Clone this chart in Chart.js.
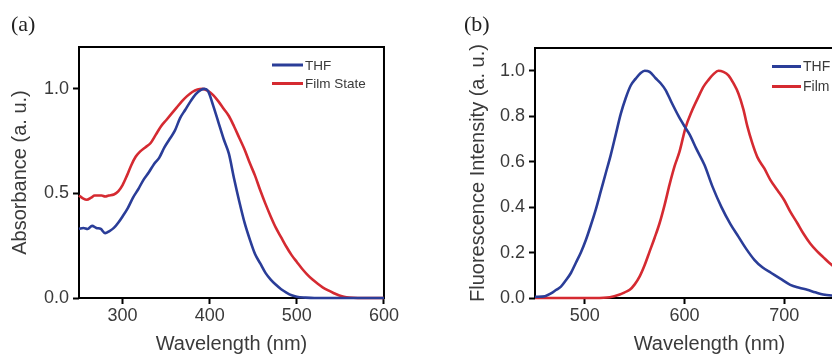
<!DOCTYPE html>
<html><head><meta charset="utf-8">
<script src="https://cdn.jsdelivr.net/npm/chart.js@4"></script>
<style>
html,body{margin:0;padding:0;width:832px;height:356px;overflow:hidden;background:#fff;}
#wrap{position:relative;width:832px;height:356px;overflow:hidden;}
canvas{position:absolute;top:0;}
.lbl{position:absolute;font-family:"Liberation Serif","Times New Roman",serif;font-size:22px;color:#222;line-height:24px;}
</style></head><body>
<div id="wrap">
<canvas id="ca" width="400" height="356" style="left:0;width:400px;height:356px"></canvas>
<canvas id="cb" width="470" height="356" style="left:430px;width:470px;height:356px"></canvas>
<div class="lbl" style="left:11px;top:12px">(a)</div>
<div class="lbl" style="left:464px;top:12px">(b)</div>
</div>
<script>
// ---------- Panel (a): absorbance ----------
const absWavelengthTHF = [250,255,260,265,270,275,280,285,290,295,300,306,312,318,324,330,336,342,348,354,360,366,372,378,384,390,394,398,404,410,416,422,428,434,440,446,452,458,464,470,476,482,488,494,500,510,520,540,560,580,600];
const absTHF = [0.33,0.335,0.33,0.345,0.335,0.33,0.31,0.32,0.335,0.36,0.39,0.43,0.48,0.52,0.565,0.60,0.64,0.67,0.72,0.76,0.80,0.86,0.90,0.94,0.975,0.995,1.0,0.99,0.92,0.84,0.76,0.69,0.57,0.46,0.36,0.28,0.21,0.165,0.12,0.088,0.063,0.042,0.026,0.013,0.006,0.002,0,0,0,0,0];
const absWavelengthFilm = [250,255,259,264,268,272,276,280,284,290,295,300,305,310,315,320,326,332,338,344,350,356,362,368,374,380,386,392,398,404,410,416,422,428,434,440,446,452,458,464,470,476,482,488,494,500,506,512,518,524,530,536,542,548,554,560,570,580,600];
const absFilm = [0.49,0.475,0.47,0.48,0.49,0.49,0.49,0.485,0.49,0.495,0.51,0.54,0.585,0.635,0.675,0.70,0.72,0.74,0.78,0.82,0.85,0.88,0.91,0.94,0.965,0.985,0.997,1.0,0.99,0.97,0.94,0.905,0.87,0.82,0.765,0.71,0.645,0.585,0.515,0.45,0.39,0.335,0.29,0.245,0.205,0.172,0.14,0.112,0.088,0.068,0.05,0.036,0.024,0.013,0.006,0.002,0,0,0];
const absXTicks = [300,400,500,600];
const absYTicks = [0.0,0.5,1.0];

// ---------- Panel (b): fluorescence ----------
const flWavelengthTHF = [450,460,466,471,476,481,486,491,496,501,506,511,516,521,526,531,536,541,546,551,556,560,565,571,576,581,587,594,600,605,612,620,628,637,646,654,662,670,678,687,696,706,715,723,731,739,750,765,780,800];
const flTHF = [0.005,0.008,0.02,0.035,0.05,0.078,0.11,0.155,0.20,0.255,0.32,0.39,0.47,0.55,0.63,0.72,0.81,0.88,0.935,0.965,0.99,1.0,0.995,0.967,0.945,0.915,0.86,0.80,0.755,0.72,0.655,0.585,0.49,0.40,0.325,0.27,0.215,0.168,0.135,0.11,0.085,0.058,0.045,0.036,0.025,0.015,0.01,0.006,0.003,0.002];
const flWavelengthFilm = [450,470,490,510,525,535,540,545,550,555,560,565,570,575,580,585,590,595,601,607,614,619,624,629,634,639,644,649,654,659,663,668,673,680,686,693,700,706,713,719,726,733,739,745,755,765,775,785,800];
const flFilm = [0,0,0,0,0.003,0.015,0.025,0.036,0.06,0.095,0.145,0.205,0.265,0.33,0.41,0.50,0.58,0.645,0.75,0.82,0.886,0.93,0.96,0.985,1.0,0.995,0.98,0.945,0.90,0.83,0.755,0.68,0.62,0.57,0.52,0.475,0.43,0.38,0.33,0.285,0.24,0.205,0.18,0.155,0.12,0.09,0.065,0.045,0.03];
const flXTicks = [500,600,700,800];
const flYTicks = [0.0,0.2,0.4,0.6,0.8,1.0];

const seriesLabels = ['THF','Film State'];
const BLUE = '#2a3d98', RED = '#d52a31';
const TXT = '#3a3a3a';
const SANS = '"Liberation Sans", Arial, sans-serif';

const framePlugin = {
  id: 'frame',
  beforeDatasetsDraw(chart) {
    const {ctx, chartArea: a} = chart;
    ctx.save();
    ctx.strokeStyle = '#000';
    ctx.lineWidth = 2;
    ctx.strokeRect(a.left, a.top, a.right - a.left, a.bottom - a.top);
    ctx.restore();
  },
  afterDatasetsDraw(chart, args, o) {
    const {ctx, chartArea: a} = chart;
    ctx.save();
    ctx.font = o.fontSize + 'px ' + SANS;
    ctx.textBaseline = 'middle';
    ctx.textAlign = 'left';
    chart.data.datasets.forEach((ds, i) => {
      const y = a.top + o.dy + i * o.gap;
      const x0 = a.right - o.dx;
      ctx.strokeStyle = ds.borderColor;
      ctx.lineWidth = 3;
      ctx.beginPath();
      ctx.moveTo(x0, y);
      ctx.lineTo(x0 + o.len, y);
      ctx.stroke();
      ctx.fillStyle = TXT;
      ctx.fillText(ds.label, x0 + o.len + 2, y + 1);
    });
    ctx.restore();
  }
};

function pts(xs, ys) { return xs.map((x, i) => ({x: x, y: ys[i]})); }

function makeChart(id, c) {
  return new Chart(document.getElementById(id), {
    type: 'line',
    data: {
      datasets: [
        {label: seriesLabels[0], data: pts(c.x1, c.y1), borderColor: BLUE, borderWidth: 2.6, pointRadius: 0, cubicInterpolationMode: 'monotone', clip: false},
        {label: seriesLabels[1], data: pts(c.x2, c.y2), borderColor: RED, borderWidth: 2.6, pointRadius: 0, cubicInterpolationMode: 'monotone', clip: false}
      ]
    },
    options: {
      responsive: false,
      animation: false,
      devicePixelRatio: 1,
      layout: {padding: c.pad},
      plugins: {legend: {display: false}, tooltip: {enabled: false}, frame: c.legend},
      scales: {
        x: {
          type: 'linear', min: c.xmin, max: c.xmax,
          afterBuildTicks: s => { s.ticks = c.xticks.map(v => ({value: v})); },
          afterFit: s => { s.height = 58; },
          border: {display: false},
          grid: {drawOnChartArea: false, drawTicks: true, tickLength: 6, tickWidth: 2, tickColor: '#000'},
          ticks: {color: TXT, font: {family: SANS, size: 18}, padding: 1, maxRotation: 0, autoSkip: false},
          title: {display: true, text: 'Wavelength (nm)', color: TXT, font: {family: SANS, size: 20}, padding: {top: 0, bottom: 0}}
        },
        y: {
          type: 'linear', min: 0, max: c.ymax,
          afterBuildTicks: s => { s.ticks = c.yticks.map(v => ({value: v})); },
          afterFit: s => { s.width = c.yw; },
          border: {display: false},
          grid: {drawOnChartArea: false, drawTicks: true, tickLength: 6, tickWidth: 2, tickColor: '#000'},
          ticks: {color: TXT, font: {family: SANS, size: 18}, padding: 4, callback: v => Number(v).toFixed(1)},
          title: {display: true, text: c.ytitle, color: TXT, font: {family: SANS, size: 20}, padding: {top: 8, bottom: 0}}
        }
      }
    },
    plugins: [framePlugin]
  });
}

makeChart('ca', {
  x1: absWavelengthTHF, y1: absTHF, x2: absWavelengthFilm, y2: absFilm,
  xmin: 250, xmax: 600, ymax: 1.2, xticks: absXTicks, yticks: absYTicks,
  ytitle: 'Absorbance (a. u.)', yw: 79,
  pad: {left: 0, top: 47, right: 13, bottom: 0},
  legend: {dx: 112, dy: 18, gap: 18.5, len: 31, fontSize: 13.5}
});

makeChart('cb', {
  x1: flWavelengthTHF, y1: flTHF, x2: flWavelengthFilm, y2: flFilm,
  xmin: 450, xmax: 800, ymax: 1.1, xticks: flXTicks, yticks: flYTicks,
  ytitle: 'Fluorescence Intensity (a. u.)', yw: 77,
  pad: {left: 28, top: 48, right: 12, bottom: 0},
  legend: {dx: 112, dy: 18.5, gap: 20, len: 29, fontSize: 14}
});
</script>
</body></html>
